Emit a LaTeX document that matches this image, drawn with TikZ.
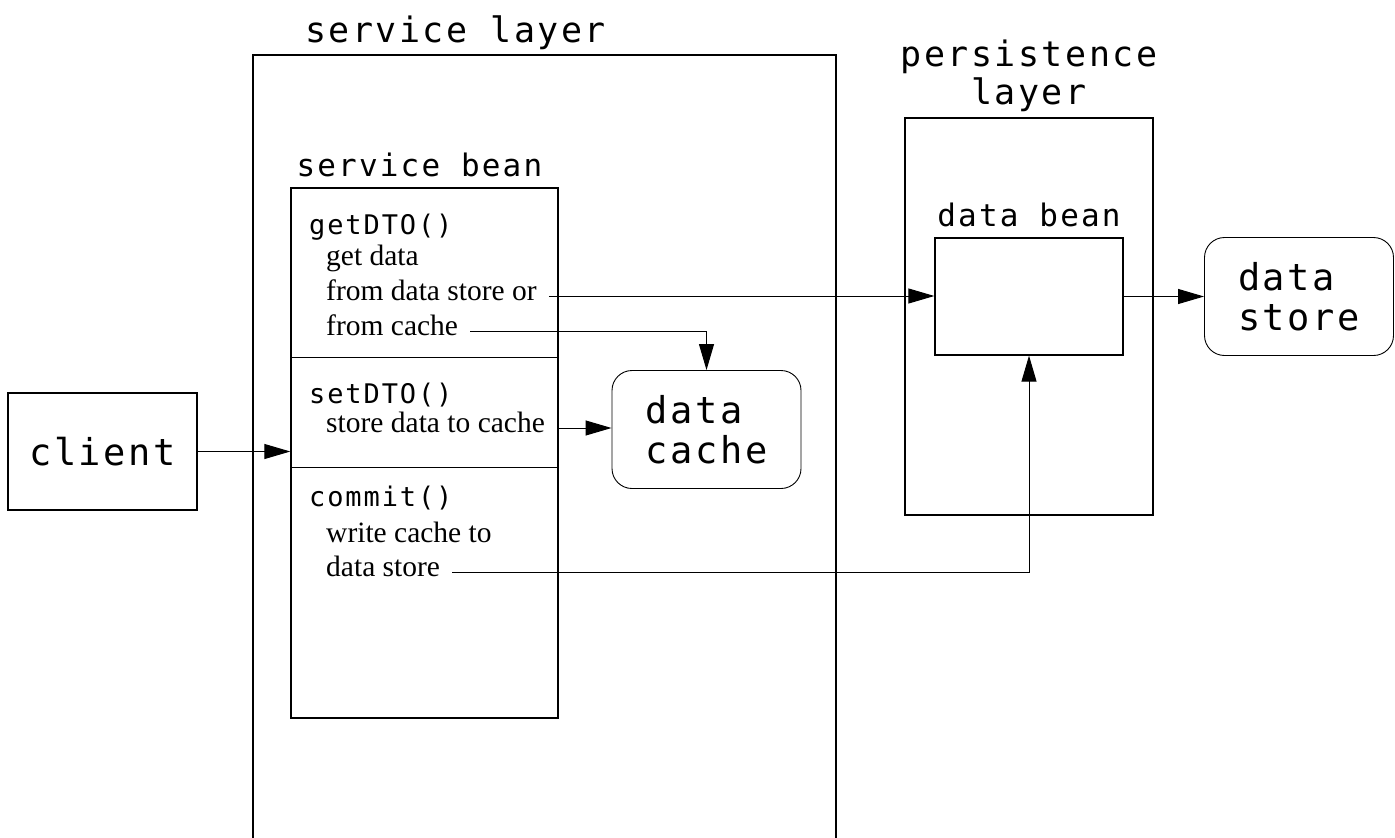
\documentclass[tikz,border=0pt]{standalone}
\usepackage{fontspec}
\setmainfont{Liberation Serif}
\newfontfamily\labelfont[LetterSpace = 7]{DejaVu Sans Mono}
\usetikzlibrary{arrows.meta, positioning}

\tikzset{
  box/.style = {draw, line width = 1.3pt, inner sep = 0pt},
  roundbox/.style = {draw, line width = .9pt, rounded corners = 20pt,
                     minimum width = 189pt, minimum height = 118pt,
                     align = left, inner sep = 0pt,
                     font = \labelfont\fontsize{37}{40}\selectfont},
  title/.style = {inner sep = 0pt, font = \labelfont\fontsize{35}{38}\selectfont},
  subtitle/.style = {inner sep = 0pt, font = \labelfont\fontsize{31}{34}\selectfont},
  method/.style = {inner sep = 0pt, anchor = base west,
                   font = \labelfont\fontsize{27}{30}\selectfont},
  note/.style = {anchor = west, inner xsep = 12pt, inner ysep = 0pt,
                 text height = 12pt, text depth = 4pt,
                 font = \fontsize{29.5}{32}\selectfont},
  link/.style = {-{Triangle[length = 26pt, width = 15pt]}, line width = 1pt}
}

\begin{document}
\begin{tikzpicture}[x = 1pt, y = -1pt]
  \useasboundingbox (0,0) rectangle (1395,838);
  \clip (0,0) rectangle (1395,838);

  % layers
  \node [box, minimum width = 583pt, minimum height = 845pt]
    (slayer) at (544.5,477.5) {};
  \node [title, anchor = base west] at (305,42) {service layer};
  \node [box, minimum width = 248pt, minimum height = 397pt]
    (player) at (1029,316.5) {};
  \node [title, align = center, above = 5pt of player] {persistence\\layer};

  % service bean
  \node [box, minimum width = 267pt, minimum height = 530pt]
    (bean) at (424.5,453) {};
  \node [subtitle, above right = 10pt and 6pt of bean.north west, anchor = south west]
    {service bean};
  \foreach \d in {170,280}
    \draw [line width = 1pt] ([yshift = -\d pt]bean.north west) --
          ([yshift = -\d pt]bean.north east);

  \node [method] (get) at (309,234) {getDTO()};
  \node [note] (getdata) at (314,261) {get data};
  \node [note] (fromstore) at (314,296) {from data store or};
  \node [note] (fromcache) at (314,331) {from cache};
  \node [method] (set) at (309,403) {setDTO()};
  \node [note] (tocache) at (314,428) {store data to cache};
  \node [method] (commit) at (309,506) {commit()};
  \node [note] (writecache) at (314,538) {write cache to};
  \node [note] (tostore) at (314,572) {data store};

  % data bean
  \node [box, minimum width = 188pt, minimum height = 117pt]
    (databean) at (1029,296.5) {};
  \node [subtitle, above = 10pt of databean] {data bean};

  % others
  \node [box, minimum width = 189pt, minimum height = 117pt,
         font = \labelfont\fontsize{37}{40}\selectfont]
    (client) at (102.5,451.5) {client};
  \node [roundbox] (cache) at (706.5,429.5) {data\\cache};
  \node [roundbox] (store) at (1299,296.5) {data\\store};

  % connectors
  \draw [link] (client.east) -- (client.east -| bean.west);
  \draw [link] (fromstore.east) -- (fromstore.east -| databean.west);
  \draw [link] (fromcache.east) -| (cache.north);
  \draw [link] (tocache.east) -- (tocache.east -| cache.west);
  \draw [link] (tostore.east) -| (databean.south);
  \draw [link] (databean.east) -- (store.west);
\end{tikzpicture}
\end{document}
